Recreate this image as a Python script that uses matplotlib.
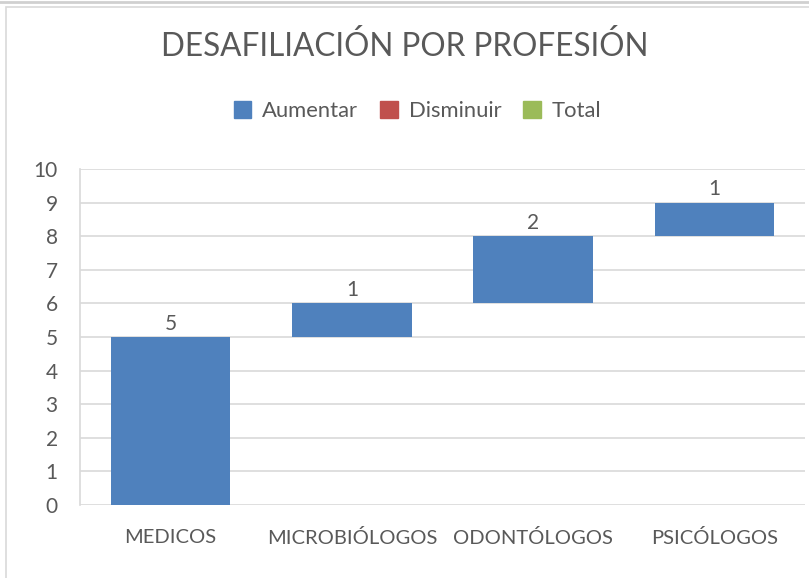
import matplotlib.pyplot as plt
from matplotlib.patches import Rectangle, Patch

categorias = ["MEDICOS", "MICROBIÓLOGOS", "ODONTÓLOGOS", "PSICÓLOGOS"]
valores = [5, 1, 2, 1]

azul = "#4F81BD"
rojo = "#C0504D"
verde = "#9BBB59"
gris_texto = "#595959"

plt.rcParams['font.family'] = ['Lato', 'DejaVu Sans']

W, H = 809, 578
fig = plt.figure(figsize=(W / 100, H / 100), dpi=100)

# chart frame
fig.patches.append(Rectangle((6 / W, -0.1), 1.1, (H - 7) / H + 0.1, transform=fig.transFigure,
                             fill=False, edgecolor="#D9D9D9", linewidth=1.2))
fig.lines.append(plt.Line2D([0, 1], [1 - 2 / H, 1 - 2 / H], transform=fig.transFigure,
                            color="#D0D0D0", linewidth=2))

ax = fig.add_axes([80 / W, 1 - 505 / H, 725 / W, (505 - 169) / H])

# waterfall bases
bases = []
acum = 0
for v in valores:
    bases.append(acum)
    acum += v

x = range(len(categorias))
ax.bar(x, valores, bottom=bases, width=0.66, color=azul, zorder=3)
for i, (b, v) in enumerate(zip(bases, valores)):
    ax.text(i, b + v + 0.1, str(v), ha="center", va="bottom", fontsize=15, color=gris_texto)

ax.set_xlim(-0.5, len(categorias) - 0.5)
ax.set_ylim(0, 10)
ax.set_yticks(range(0, 11))
ax.set_xticks(list(x))
ax.set_xticklabels(categorias)
ax.tick_params(axis="both", length=0, labelsize=15, colors=gris_texto)
ax.tick_params(axis="x", labelsize=14.5, pad=17)
ax.tick_params(axis="y", pad=16)
ax.grid(axis="y", color="#D9D9D9", linewidth=1.2, zorder=0)
for s in ["top", "right", "bottom"]:
    ax.spines[s].set_visible(False)
ax.spines["left"].set_color("#D9D9D9")
ax.spines["left"].set_linewidth(1.2)

fig.text(0.5, 1 - 47 / H, "DESAFILIACIÓN POR PROFESIÓN", ha="center", va="center",
         fontsize=22.7, color=gris_texto)

handles = [Patch(color=azul, label="Aumentar"), Patch(color=rojo, label="Disminuir"),
           Patch(color=verde, label="Total")]
fig.legend(handles=handles, loc="center", bbox_to_anchor=(0.516, 1 - 111 / H), ncol=3,
           frameon=False, fontsize=15.8, labelcolor=gris_texto, handlelength=0.8,
           handleheight=0.8, handletextpad=0.5, columnspacing=1.0)

fig.savefig("out.png", dpi=100)
